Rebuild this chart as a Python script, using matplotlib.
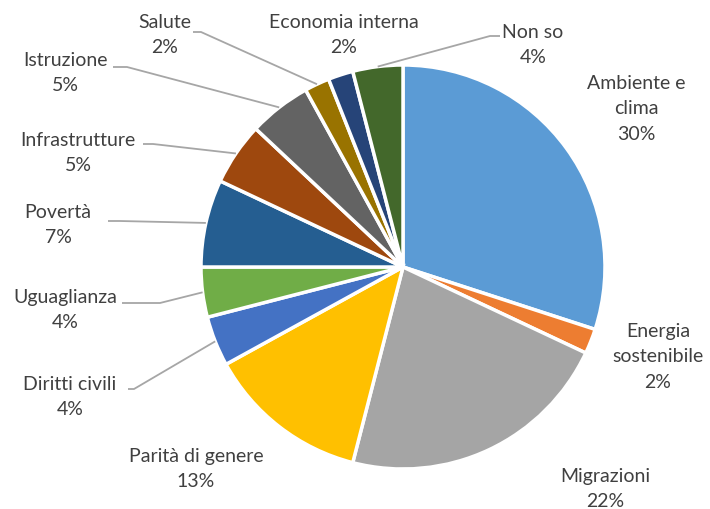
import numpy as np
import matplotlib.pyplot as plt

plt.rcParams['font.family'] = ['Lato', 'DejaVu Sans']

categories = ["Ambiente e\nclima", "Energia\nsostenibile", "Migrazioni",
              "Parità di genere", "Diritti civili", "Uguaglianza", "Povertà",
              "Infrastrutture", "Istruzione", "Salute", "Economia interna",
              "Non so"]
values = [30, 2, 22, 13, 4, 4, 7, 5, 5, 2, 2, 4]
colors = ["#5B9BD5", "#ED7D31", "#A5A5A5", "#FFC000", "#4472C4", "#70AD47",
          "#255E91", "#9E480E", "#636363", "#997300", "#264478", "#43682B"]

# label placement in pixels (x, y), plus optional leader stub (x0, x1, y)
label_pos = [(636, 401), (658, 153), (605, 21), (196, 41), (70, 113),
             (65, 200), (58, 285), (78, 357), (65, 437), (165, 475),
             (344, 475), (533, 465)]
leaders = [None, None, None, None, (128, 134, 120), (122, 160, 206),
           (108, 120, 288), (143, 153, 365), (113, 127, 442),
           (193, 201, 477), None, (500, 490, 473)]

W, H = 710, 510
cx, cy, R = 403, 242, 202

fig = plt.figure(figsize=(W / 100, H / 100), dpi=100)
ax = fig.add_axes([0, 0, 1, 1])

wedges, _ = ax.pie(values, colors=colors, startangle=90, counterclock=False,
                   center=(cx, cy), radius=R,
                   wedgeprops=dict(edgecolor='white', linewidth=2.5))
ax.set_xlim(0, W)
ax.set_ylim(0, H)
ax.set_aspect('equal')
ax.axis('off')

total = sum(values)
for w, cat, v, pos, ld in zip(wedges, categories, values, label_pos, leaders):
    ax.text(pos[0], pos[1], f"{cat}\n{v / total:.0%}", ha='center',
            va='center', fontsize=14, color='#404040', linespacing=1.6)
    if ld is not None:
        mid = np.deg2rad((w.theta1 + w.theta2) / 2)
        px, py = cx + R * np.cos(mid), cy + R * np.sin(mid)
        ax.plot([ld[0], ld[1], px], [ld[2], ld[2], py], color='#A6A6A6',
                lw=1.3, solid_capstyle='butt')

fig.savefig("out.png", dpi=100)
